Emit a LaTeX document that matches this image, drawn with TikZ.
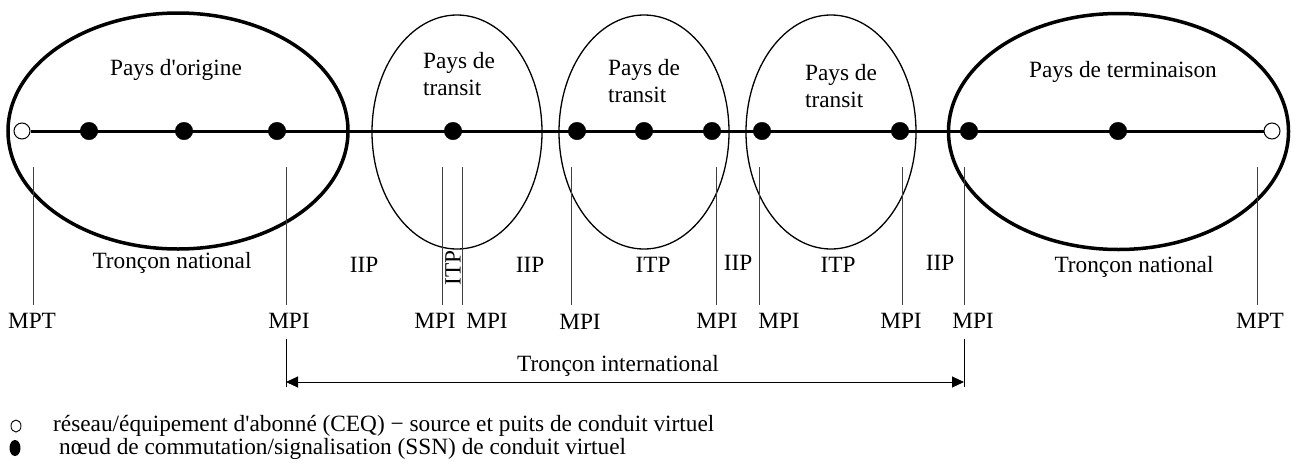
\documentclass[tikz,border=0pt]{standalone}
\usepackage{fontspec}
\newfontfamily\tf{Liberation Serif}
\usetikzlibrary{arrows.meta,shapes.geometric}
\begin{document}
\begin{tikzpicture}[x=1pt,y=-1pt,
  txt/.style={inner sep=0pt,font=\tf\fontsize{23.3}{27}\selectfont},
  lgd/.style={inner sep=0pt,anchor=west,font=\tf\fontsize{23.3}{26}\selectfont},
  thick ell/.style={draw,line width=3.5pt},
  thin ell/.style={draw,line width=1.3pt},
  sw/.style={circle,fill=black,draw=black,inner sep=0pt,minimum size=17.5pt},
  ceq/.style={circle,fill=white,draw=black,line width=1pt,inner sep=0pt,minimum size=16pt},
  vline/.style={line width=0.9pt,draw=black!75},
  path/.style={line width=3pt}]
\useasboundingbox (0,0) rectangle (1296,464);

% ellipses
\draw[thick ell] (178,131) ellipse [x radius=170, y radius=118];
\draw[thin ell] (457,132) ellipse [x radius=85, y radius=117];
\draw[thin ell] (644,132) ellipse [x radius=85, y radius=117];
\draw[thin ell] (831,132) ellipse [x radius=85, y radius=117];
\draw[thick ell] (1118.5,131.5) ellipse [x radius=170, y radius=118];

% end points and nodes
\node[ceq] (o1) at (22,131) {};
\node[ceq] (o2) at (1272,131) {};
\draw[path] (o1) -- (o2);
\foreach \n/\x in {n1/89,n2/184,n3/277,n4/453,n5/577,n6/644,n7/712,n8/762,n9/900,n10/969,n11/1118}
  \node[sw] (\n) at (\x,131) {};

% country labels
\node[txt] (t1) at (176,70) {Pays d'origine};
\node[txt,align=left] (t2) at (459,74) {Pays de\\transit};
\node[txt,align=left] (t3) at (644,81) {Pays de\\transit};
\node[txt,align=left] (t4) at (841,86) {Pays de\\transit};
\node[txt] (t5) at (1123,72) {Pays de terminaison};

% vertical lines
\foreach \v/\x in {v1/33,v2/286,v3/442,v4/462,v5/571,v6/716,v7/759,v8/902,v9/964,v10/1257}{
  \coordinate (\v t) at (\x,167);
  \coordinate (\v b) at (\x,305);
  \draw[vline] (\v t) -- (\v b);
}

% section labels
\node[txt] (s1) at (172,263) {Tronçon national};
\node[txt] (s2) at (364,265) {IIP};
\node[txt,rotate=90] (s3) at (453,268) {ITP};
\node[txt] (s4) at (530,265) {IIP};
\node[txt] (s5) at (653,265) {ITP};
\node[txt] (s6) at (738,263) {IIP};
\node[txt] (s7) at (838,265) {ITP};
\node[txt] (s8) at (940,263) {IIP};
\node[txt] (s9) at (1134,267) {Tronçon national};

% measurement point labels
\node[txt] (m1) at (32,321) {MPT};
\node[txt] (m2) at (289,321) {MPI};
\node[txt] (m3) at (435,321) {MPI};
\node[txt] (m4) at (487,321) {MPI};
\node[txt] (m5) at (580,322) {MPI};
\node[txt] (m6) at (717,321) {MPI};
\node[txt] (m7) at (779,321) {MPI};
\node[txt] (m8) at (901,321) {MPI};
\node[txt] (m9) at (973,321) {MPI};
\node[txt] (m10) at (1260,321) {MPT};

% international section
\coordinate (a1t) at (286,339);
\coordinate (a1b) at (286,387);
\coordinate (a2t) at (964,339);
\coordinate (a2b) at (964,387);
\coordinate (a1) at (286,382);
\coordinate (a2) at (964,382);
\draw[line width=1pt] (a1t) -- (a1b);
\draw[line width=1pt] (a2t) -- (a2b);
\draw[line width=1pt,{Triangle[length=12pt,width=11pt]}-{Triangle[length=12pt,width=11pt]}] (a1) -- (a2);
\node[txt] (ti) at (618,366) {Tronçon international};

% legend
\node[draw=black,line width=0.9pt,fill=white,ellipse,inner sep=0pt,minimum width=10pt,minimum height=12pt] (l1) at (16,426) {};
\node[fill=black,ellipse,inner sep=0pt,minimum width=11pt,minimum height=16pt] (l2) at (15,448) {};
\node[lgd] (lt1) at (53,426) {réseau/équipement d'abonné (CEQ) − source et puits de conduit virtuel};
\node[lgd] (lt2) at (59,449) {nœud de commutation/signalisation (SSN) de conduit virtuel};
\end{tikzpicture}
\end{document}
